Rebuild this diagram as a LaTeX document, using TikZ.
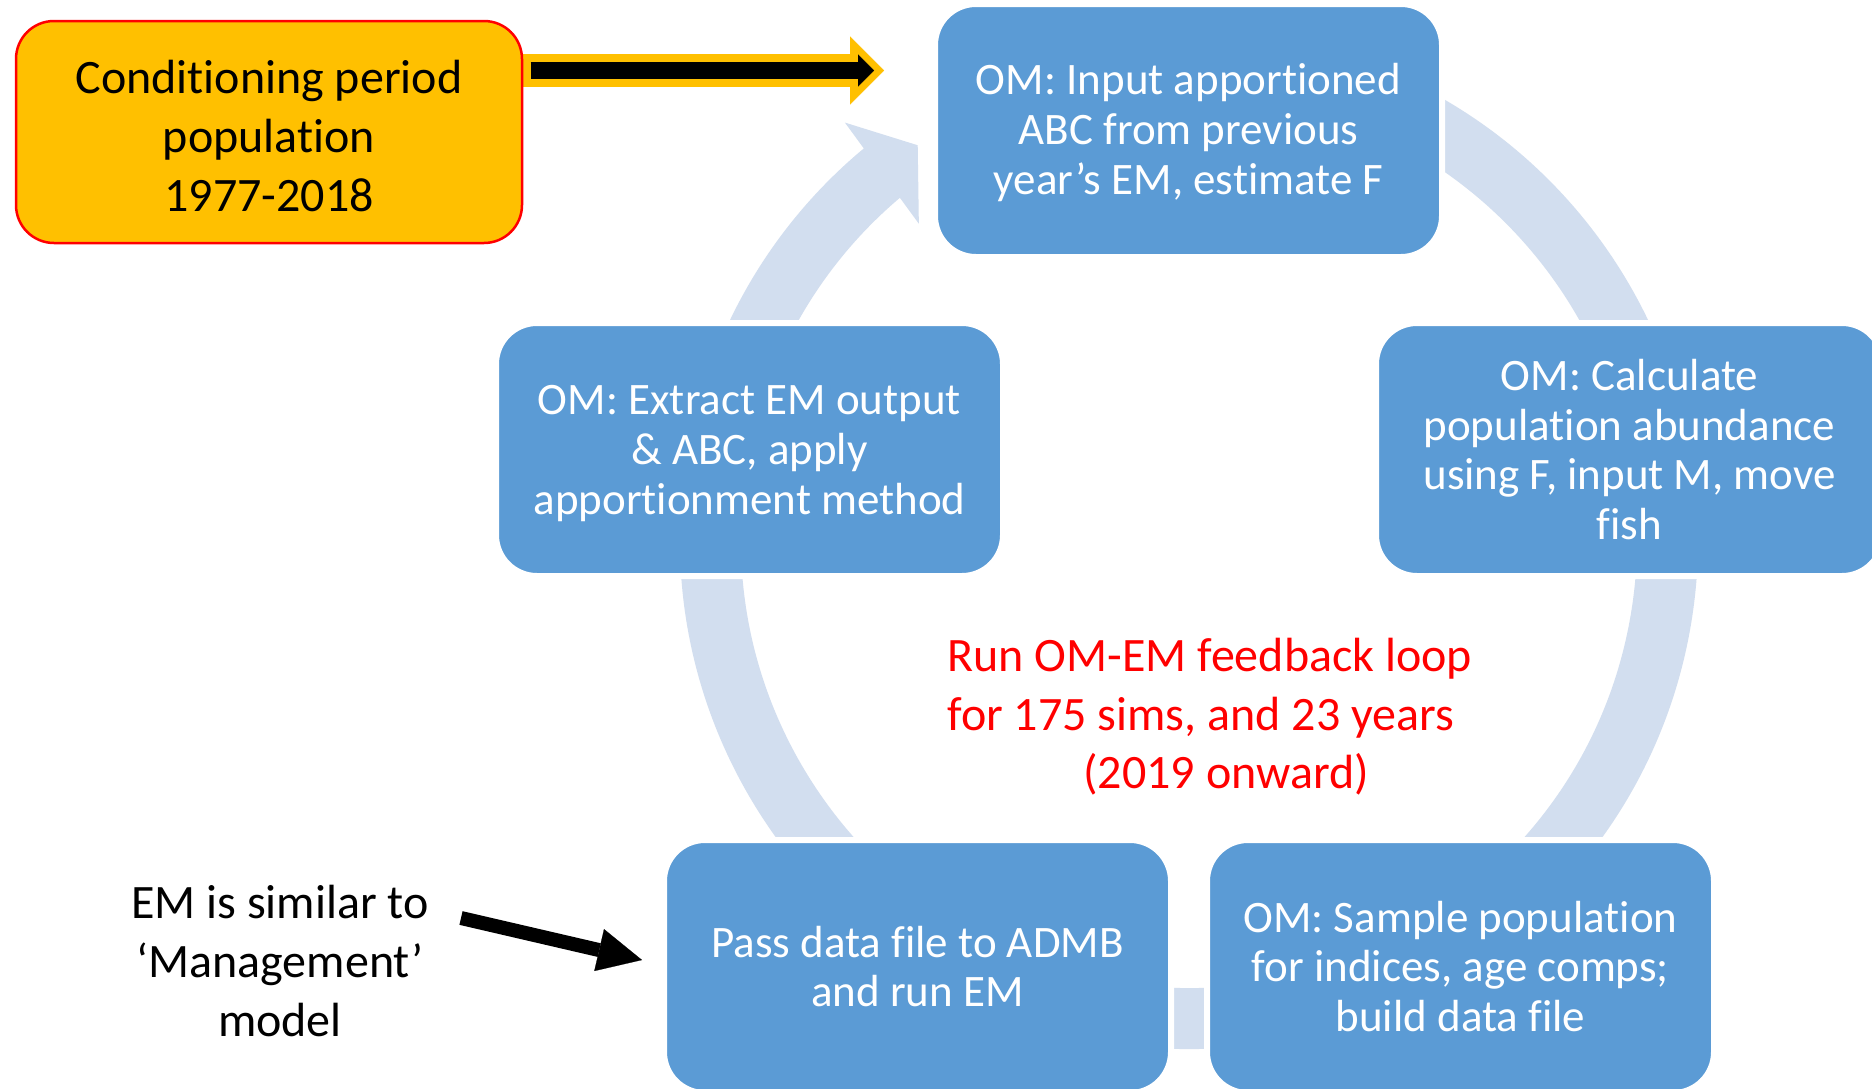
\documentclass[tikz,border=0pt]{standalone}
\usepackage{fontspec}
\setmainfont{Carlito}[Ligatures={NoCommon,NoContextual,NoRare}, RawFeature={-liga;-clig;-calt;-dlig}]
\usetikzlibrary{calc,arrows.meta}
\definecolor{boxblue}{RGB}{91,155,213}
\definecolor{ringblue}{RGB}{210,222,239}
\definecolor{gold}{RGB}{255,192,0}
\definecolor{alertred}{RGB}{255,0,0}
\begin{document}
\begin{tikzpicture}[x=0.5pt, y=-0.5pt,
  cyclebox/.style={rectangle, rounded corners=20.5pt, fill=boxblue, draw=white,
    line width=3pt, minimum width=253.5pt, minimum height=126.5pt, inner sep=0pt,
    align=center, text=white, font=\fontsize{22.5}{24.8}\selectfont},
  boxlabel/.style={inner sep=0pt, align=center, text=white,
    font=\fontsize{22.5}{24.8}\selectfont},
  condbox/.style={rectangle, rounded corners=19pt, fill=gold, draw=alertred,
    line width=1.25pt, minimum width=253pt, minimum height=111pt, inner sep=0pt},
  note/.style={inner sep=0pt, font=\fontsize{24}{29.3}\selectfont},
  ringband/.style={draw=ringblue, line width=30.5pt},
  blockarrow/.style={line cap=butt}]
  \useasboundingbox (0,0) rectangle (1872,1088);
  \clip (0,0) rectangle (1872,1088);
  \fill[white] (0,0) rectangle (1872,1088);

  % centre of the circular band that links the five steps
  \coordinate (ctr) at (1189,540);
  \draw[ringband] ($(ctr)+(-80:478.5)$) arc[start angle=-80, end angle=231, radius=478.5];
  \fill[ringblue] ($(ctr)+(230.5:541)$) -- ($(ctr)+(235.5:479)$) -- ($(ctr)+(229.5:416)$) -- cycle;

  % the five steps of the loop
  \node[cyclebox, label={[boxlabel, yshift=-1pt]center:{OM: Input apportioned\\ABC from previous\\year’s EM, estimate F}}]
    (top) at (1188.5,130.5) {};
  \node[cyclebox] (calc) at (1629.5,449.5) {OM: Calculate\\population abundance\\using F, input M, move\\fish};
  \node[cyclebox] (sample) at (1460.5,966.5) {OM: Sample population\\for indices, age comps;\\build data file};
  \node[cyclebox] (pass) at (917.5,966.5) {Pass data file to ADMB\\and run EM};
  \node[cyclebox, label={[boxlabel, yshift=-2pt]center:{OM: Extract EM output\\\& ABC, apply\\apportionment method}}]
    (extract) at (749.5,449.5) {};

  % conditioning period feeding into the loop
  \coordinate (condOut) at (522,70.5);
  \coordinate (goldTip) at (884,70.5);
  \coordinate (blackTip) at (874,70.5);
  \draw[blockarrow, gold, line width=16.7pt, -{Triangle[length=17pt, width=34pt, line width=0.1pt]}]
    (condOut) -- (goldTip);
  \draw[blockarrow, black, line width=8.5pt, -{Triangle[length=8pt, width=16pt, line width=0.1pt]}]
    ($(condOut)+(8.5,0)$) -- (blackTip);
  \node[condbox, label={[note, align=center, yshift=-2pt]center:{Conditioning period\\population\\1977-2018}}]
    (cond) at (269,132) {};

  % loop annotation
  \node[note, text=alertred, align=left, anchor=west] (loop) at (947,717)
    {Run OM-EM feedback loop\\for 175 sims, and 23 years\\\hspace*{68pt}(2019 onward)};

  % estimation model note
  \node[note, align=center] (emnote) at (280,961) {EM is similar to\\‘Management’\\model};
  \coordinate (emTail) at (461,918);
  \coordinate (emTip) at (642,960);
  \draw[blockarrow, black, line width=7pt, -{Triangle[length=22pt, width=21.5pt, line width=0.1pt]}]
    (emTail) -- (emTip);
\end{tikzpicture}
\end{document}
